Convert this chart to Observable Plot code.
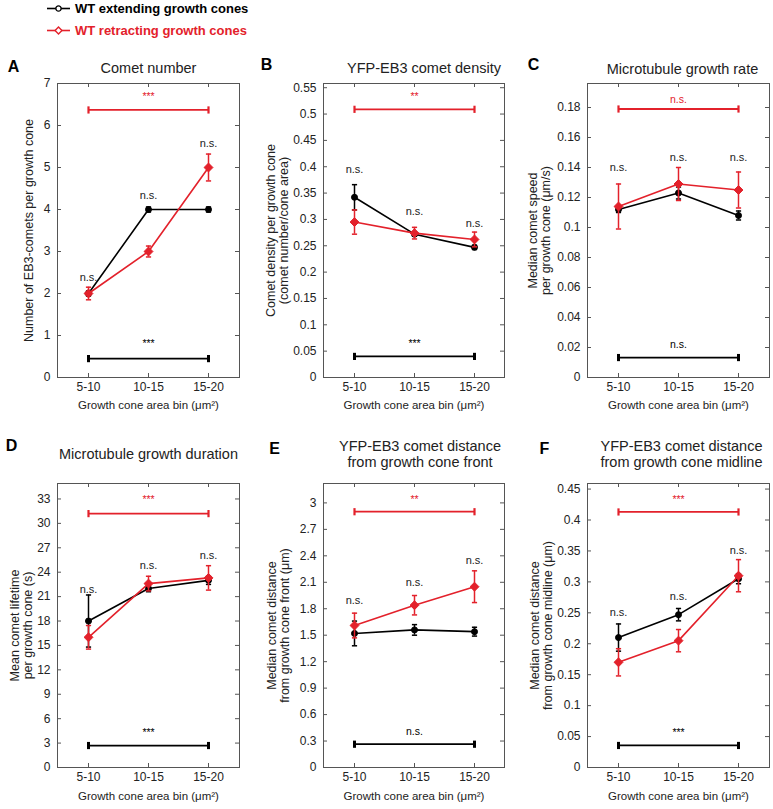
<!DOCTYPE html>
<html>
<head>
<meta charset="utf-8">
<script src="https://cdn.jsdelivr.net/npm/d3@7"></script>
<script src="https://cdn.jsdelivr.net/npm/@observablehq/plot@0.6"></script>
<style>
  html, body { margin: 0; padding: 0; background: #fff; }
  #root { position: relative; width: 773px; height: 809px; overflow: hidden; background: #fff;
          font-family: "Liberation Sans", Arial, sans-serif; }
  .panel { position: absolute; }
  #legend { position: absolute; left: 0; top: 0; }
</style>
</head>
<body>
<div id="root"></div>
<script>
// ---------------- DATA ----------------
const bins = ["5-10", "10-15", "15-20"];
const seriesNames = ["WT extending growth cones", "WT retracting growth cones"];
const panelLetters = ["A", "B", "C", "D", "E", "F"];
const panelTitles = [
  "Comet number",
  "YFP-EB3 comet density",
  "Microtubule growth rate",
  "Microtubule growth duration",
  "YFP-EB3 comet distance\nfrom growth cone front",
  "YFP-EB3 comet distance\nfrom growth cone midline"
];
const yAxisLabels = [
  "Number of EB3-comets per growth cone",
  "Comet density per growth cone\n(comet number/cone area)",
  "Median comet speed\nper growth cone (μm/s)",
  "Mean comet lifetime\nper growth cone (s)",
  "Median comet distance\nfrom growth cone front (μm)",
  "Median comet distance\nfrom growth cone midline (μm)"
];
const xAxisLabel = "Growth cone area bin (μm²)";
const yMax = [7, 0.558, 0.196, 34.9, 3.22, 0.459];
const yTicks = [
  [0, 1, 2, 3, 4, 5, 6, 7],
  [0, 0.05, 0.1, 0.15, 0.2, 0.25, 0.3, 0.35, 0.4, 0.45, 0.5, 0.55],
  [0, 0.02, 0.04, 0.06, 0.08, 0.1, 0.12, 0.14, 0.16, 0.18],
  [0, 3, 6, 9, 12, 15, 18, 21, 24, 27, 30, 33],
  [0, 0.3, 0.6, 0.9, 1.2, 1.5, 1.8, 2.1, 2.4, 2.7, 3],
  [0, 0.05, 0.1, 0.15, 0.2, 0.25, 0.3, 0.35, 0.4, 0.45]
];
// extending growth cones (black)
const extMean = [
  [2, 4, 4],
  [0.342, 0.272, 0.247],
  [0.112, 0.123, 0.108],
  [18, 22, 23],
  [1.52, 1.56, 1.54],
  [0.21, 0.247, 0.305]
];
const extErr = [
  [0.06, 0.06, 0.06],
  [0.024, 0.004, 0.004],
  [0.002, 0.004, 0.003],
  [3.2, 0.4, 0.5],
  [0.14, 0.06, 0.05],
  [0.022, 0.01, 0.008]
];
// retracting growth cones (red)
const retMean = [
  [2, 3, 5],
  [0.295, 0.274, 0.262],
  [0.114, 0.129, 0.125],
  [16, 22.6, 23.3],
  [1.61, 1.84, 2.05],
  [0.17, 0.205, 0.31]
];
const retErr = [
  [0.15, 0.13, 0.32],
  [0.023, 0.011, 0.014],
  [0.015, 0.011, 0.012],
  [1.45, 0.9, 1.5],
  [0.14, 0.11, 0.18],
  [0.022, 0.018, 0.026]
];
// per-bin comparison labels
const binSigText = [
  ["n.s.", "n.s.", "n.s."],
  ["n.s.", "n.s.", "n.s."],
  ["n.s.", "n.s.", "n.s."],
  ["n.s.", "n.s.", "n.s."],
  ["n.s.", "n.s.", "n.s."],
  ["n.s.", "n.s.", "n.s."]
];
const binSigY = [
  [2.39, 4.34, 5.58],
  [0.395, 0.316, 0.292],
  [0.140, 0.1466, 0.1466],
  [21.9, 24.8, 26.1],
  [1.89, 2.10, 2.35],
  [0.251, 0.276, 0.351]
];
// across-bin comparison bars
const retBarY = [6.37, 0.509, 0.179, 31.2, 2.9, 0.413];
const retBarText = ["***", "**", "n.s.", "***", "**", "***"];
const retBarTextY = [6.68, 0.534, 0.185, 32.9, 3.04, 0.433];
const extBarY = [0.45, 0.04, 0.0133, 2.7, 0.264, 0.0356];
const extBarText = ["***", "***", "n.s.", "***", "n.s.", "***"];
const extBarTextY = [0.80, 0.065, 0.0217, 4.3, 0.41, 0.0567];

// ---------------- LAYOUT / STYLE ----------------
const FONT = '"Liberation Sans", Arial, sans-serif';
const RED = "#e3212b";
const BLACK = "#000000";
const FRAME = "#555555";
const TXT = "#222222";
const colX = [0, 257, 514], colW = [257, 257, 259];
const colML = [57, 66, 73], colMR = [18, 10, 4];
const rowY = [40, 410], rowH = [370, 399];
const rowMT = [43, 73], rowMB = [33, 42];
const titleDx = [0, 10, 4, 0, 6, 3];
const titleDy = [-16, -16, -15, -30, -30, -30];
const letterDx = [-44, -57, -54, -46, -49, -43];
const letterDy = [-17, -19, -19, -38, -35, -35];
const yLabelDx = [-28.5, -46, -48.5, -36, -45.5, -46.5];
const xLabelDy = [28, 29];

const capH = { draw(ctx, size) { const r = Math.sqrt(size / Math.PI); ctx.moveTo(-r, 0); ctx.lineTo(r, 0); } };
const capV = { draw(ctx, size) { const r = Math.sqrt(size / Math.PI); ctx.moveTo(0, -r); ctx.lineTo(0, r); } };
const fmt = d => String(+d.toFixed(3));

const root = document.getElementById("root");

function seriesRows(means, errs) {
  return bins.map((b, j) => ({ bin: b, v: means[j], lo: means[j] - errs[j], hi: means[j] + errs[j] }));
}

function panel(i) {
  const col = i % 3, row = Math.floor(i / 3);
  const W = colW[col], H = rowH[row];
  const ml = colML[col], mr = colMR[col], mt = rowMT[row], mb = rowMB[row];
  const fw = W - ml - mr, fh = H - mt - mb;
  const ext = seriesRows(extMean[i], extErr[i]);
  const ret = seriesRows(retMean[i], retErr[i]);
  const sig = bins.map((b, j) => ({ bin: b, y: binSigY[i][j], t: binSigText[i][j] }));
  const ticks = yTicks[i];

  const errMarks = (rows, color, sym, rr) => [
    Plot.ruleX(rows, { x: "bin", y1: "lo", y2: "hi", stroke: color, strokeWidth: 1.5 }),
    Plot.dot(rows, { x: "bin", y: "hi", symbol: capH, r: 2.6, stroke: color, strokeWidth: 1.5 }),
    Plot.dot(rows, { x: "bin", y: "lo", symbol: capH, r: 2.6, stroke: color, strokeWidth: 1.5 }),
    Plot.line(rows, { x: "bin", y: "v", stroke: color, strokeWidth: 1.6 }),
    Plot.dot(rows, { x: "bin", y: "v", symbol: sym, r: rr, fill: color, stroke: color, strokeWidth: 1 })
  ];

  const barMarks = (y, text, textY, color, capW) => [
    Plot.link([y], { x1: () => bins[0], x2: () => bins[2], y1: d => d, y2: d => d, stroke: color, strokeWidth: 1.8 }),
    Plot.dot([bins[0], bins[2]], { x: d => d, y: () => y, symbol: capV, r: 3.6, stroke: color, strokeWidth: capW }),
    Plot.text([text], { x: () => bins[1], y: () => textY, fill: color, fontSize: 10.5, lineAnchor: "middle", fontFamily: FONT })
  ];

  const svg = Plot.plot({
    width: W, height: H,
    marginLeft: ml, marginRight: mr, marginTop: mt, marginBottom: mb,
    style: { fontFamily: FONT, fontSize: "12px", color: TXT, background: "transparent", overflow: "visible" },
    x: { type: "point", domain: bins, padding: 0.5 },
    y: { domain: [0, yMax[i]] },
    marks: [
      // inside ticks (MATLAB style)
      Plot.tickY(ticks, { y: d => d, insetRight: fw - 4, stroke: FRAME }),
      Plot.tickY(ticks, { y: d => d, insetLeft: fw - 4, stroke: FRAME }),
      Plot.tickX(bins, { x: d => d, insetTop: fh - 4, stroke: FRAME }),
      Plot.tickX(bins, { x: d => d, insetBottom: fh - 4, stroke: FRAME }),
      Plot.frame({ stroke: FRAME, strokeWidth: 1 }),
      Plot.axisY({ ticks, tickSize: 0, tickPadding: 7, tickFormat: fmt, fontSize: 12, label: null }),
      Plot.axisX({ tickSize: 0, tickPadding: 5, fontSize: 12, label: null }),
      // significance bars
      ...barMarks(retBarY[i], retBarText[i], retBarTextY[i], RED, 2.2),
      ...barMarks(extBarY[i], extBarText[i], extBarTextY[i], BLACK, 3),
      // series
      ...errMarks(ext, BLACK, "circle", 3),
      ...errMarks(ret, RED, "diamond2", 4),
      // per-bin labels
      Plot.text(sig, { x: "bin", y: "y", text: "t", fontSize: 11, fill: TXT, lineAnchor: "middle", fontFamily: FONT }),
      // titles and labels
      Plot.text([panelTitles[i]], { frameAnchor: "top", dx: titleDx[i], dy: titleDy[i], fontSize: 14.5, lineAnchor: "middle", lineHeight: 1.15, fill: TXT, fontFamily: FONT }),
      Plot.text([panelLetters[i]], { frameAnchor: "top-left", dx: letterDx[i], dy: letterDy[i], fontSize: 16, fontWeight: "bold", lineAnchor: "middle", textAnchor: "middle", fill: "#000", fontFamily: FONT }),
      Plot.text([yAxisLabels[i]], { frameAnchor: "left", rotate: -90, dx: yLabelDx[i], fontSize: 12.5, lineHeight: 1.05, lineAnchor: "middle", textAnchor: "middle", fill: TXT, fontFamily: FONT }),
      Plot.text([xAxisLabel], { frameAnchor: "bottom", dy: xLabelDy[row], fontSize: 11.5, lineAnchor: "middle", fill: TXT, fontFamily: FONT })
    ]
  });
  const div = document.createElement("div");
  div.className = "panel";
  div.style.left = colX[col] + "px";
  div.style.top = rowY[row] + "px";
  div.appendChild(svg);
  root.appendChild(div);
}

for (let i = 0; i < 6; i++) panel(i);

// ---------------- LEGEND ----------------
const legendColors = [BLACK, RED];
const legendSymbols = [d3.symbolCircle, d3.symbolDiamond2];
const legendRowY = [8.5, 30.5];
const lg = d3.select(root).append("svg").attr("id", "legend").attr("width", 270).attr("height", 42);
seriesNames.forEach((name, k) => {
  const y = legendRowY[k];
  lg.append("line").attr("x1", 47).attr("x2", 70).attr("y1", y).attr("y2", y)
    .attr("stroke", legendColors[k]).attr("stroke-width", 1.6);
  lg.append("path").attr("d", d3.symbol(legendSymbols[k], k === 0 ? 22 : 30)())
    .attr("transform", `translate(58.5,${y})`)
    .attr("fill", "#fff").attr("stroke", legendColors[k]).attr("stroke-width", 1.4);
  lg.append("text").attr("x", 75).attr("y", y).attr("dy", "0.35em")
    .attr("font-family", FONT).attr("font-size", 13).attr("font-weight", "bold")
    .attr("fill", legendColors[k]).text(name);
});
</script>
</body>
</html>
